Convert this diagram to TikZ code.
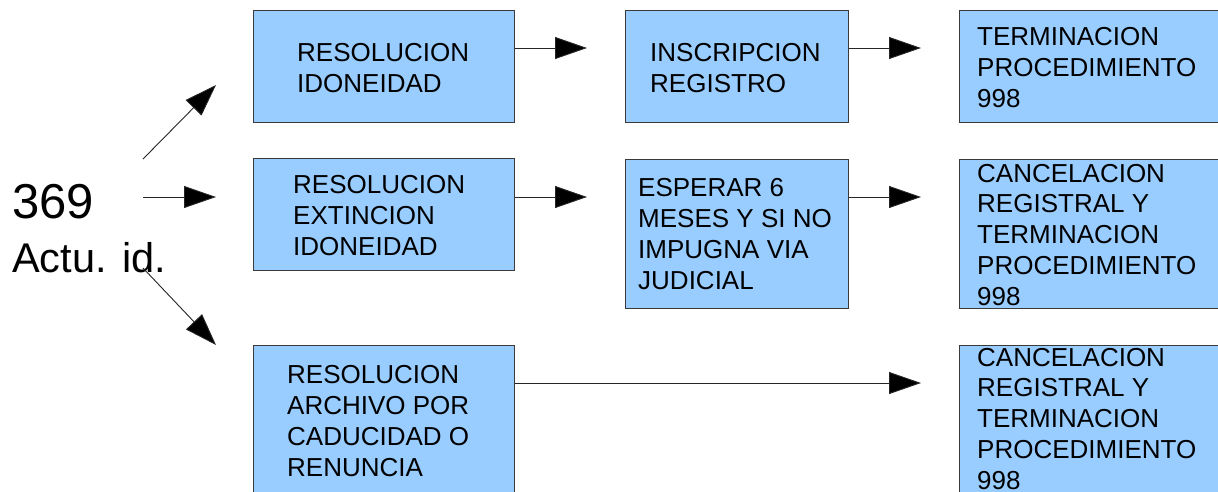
\documentclass[tikz,border=0pt]{standalone}
\usepackage{fontspec}
\setmainfont{Liberation Sans}
\usetikzlibrary{arrows.meta}
\definecolor{boxfill}{HTML}{99CCFF}
\definecolor{boxline}{HTML}{3A3A3A}
\begin{document}
\begin{tikzpicture}[x=1pt,y=-1pt,
  box/.style={draw=boxline,fill=boxfill,line width=1.1pt,inner sep=0pt,anchor=north west},
  boxtext/.style={anchor=base west,inner sep=0pt,align=left,font=\fontsize{26}{30.7}\selectfont},
  flow/.style={draw=black!85,line width=0.9pt,-{Triangle[length=32pt,width=22pt,fill=black]}}]
\clip (0,0) rectangle (1218,491);
\fill[white] (0,0) rectangle (1218,491);
% boxes
\node[box,minimum width=261pt,minimum height=112pt] (A) at (253,10) {};
\node[box,minimum width=223pt,minimum height=112pt] (B) at (625,10) {};
\node[box,minimum width=280pt,minimum height=112pt] (C) at (959,10) {};
\node[box,minimum width=261pt,minimum height=112pt] (D) at (253,158) {};
\node[box,minimum width=223pt,minimum height=149pt] (E) at (625,159) {};
\node[box,minimum width=280pt,minimum height=149pt] (F) at (959,159) {};
\node[box,minimum width=261pt,minimum height=170pt] (G) at (253,345) {};
\node[box,minimum width=280pt,minimum height=170pt] (H) at (959,345) {};
% texts (anchor = baseline of the last line)
\node[boxtext] (tA) at (297,92) {RESOLUCION\\IDONEIDAD};
\node[boxtext] (tB) at (650,92) {INSCRIPCION\\REGISTRO};
\node[boxtext] (tC) at (977,107) {TERMINACION\\PROCEDIMIENTO\\998};
\node[boxtext] (tD) at (293,255) {RESOLUCION\\EXTINCION\\IDONEIDAD};
\node[boxtext] (tE) at (638,289) {ESPERAR 6\\MESES Y SI NO\\IMPUGNA VIA\\JUDICIAL};
\node[boxtext] (tF) at (977,305) {CANCELACION\\REGISTRAL Y\\TERMINACION\\PROCEDIMIENTO\\998};
\node[boxtext] (tG) at (287,476) {RESOLUCION\\ARCHIVO POR\\CADUCIDAD O\\RENUNCIA};
\node[boxtext] (tH) at (977,489) {CANCELACION\\REGISTRAL Y\\TERMINACION\\PROCEDIMIENTO\\998};
\node[anchor=base west,inner sep=0pt,font=\fontsize{49}{55}\selectfont] (n369) at (12,218) {369};
\node[anchor=base west,inner sep=0pt,font=\fontsize{41.5}{48}\selectfont] (act) at (12,272) {Actu. id.};
% coordinates
\coordinate (s1) at (143,159);
\coordinate (e1) at (216,85);
\coordinate (s2) at (143,197);
\coordinate (e2) at (216,197);
\coordinate (s3) at (143,268);
\coordinate (e3) at (216,345);
\coordinate (ab) at (587,48);
\coordinate (bc) at (921,48);
\coordinate (de) at (587,197);
\coordinate (ef) at (921,197);
\coordinate (gh) at (921,383);
% connectors
\draw[flow] (s1) -- (e1);
\draw[flow] (s2) -- (e2);
\draw[flow] (s3) -- (e3);
\draw[flow] (A.east |- ab) -- (ab);
\draw[flow] (B.east |- bc) -- (bc);
\draw[flow] (D.east |- de) -- (de);
\draw[flow] (E.east |- ef) -- (ef);
\draw[flow] (G.east |- gh) -- (gh);
\end{tikzpicture}
\end{document}
